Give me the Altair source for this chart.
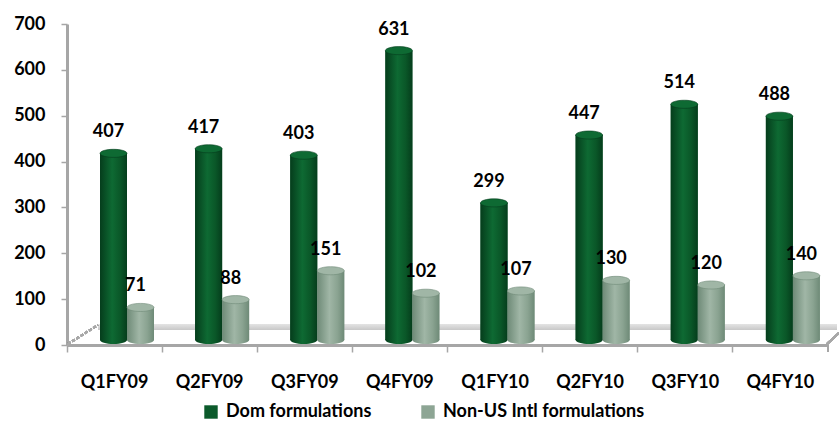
import altair as alt
import pandas as pd

# Quarterly formulations revenue
quarters = ["Q1FY09", "Q2FY09", "Q3FY09", "Q4FY09", "Q1FY10", "Q2FY10", "Q3FY10", "Q4FY10"]
dom_values = [407, 417, 403, 631, 299, 447, 514, 488]
intl_values = [71, 88, 151, 102, 107, 130, 120, 140]
series_names = ["Dom formulations", "Non-US Intl formulations"]
y_ticks = [0, 100, 200, 300, 400, 500, 600, 700]

rows = []
for q, d, n in zip(quarters, dom_values, intl_values):
    rows.append({"quarter": q, "series": series_names[0], "value": d})
    rows.append({"quarter": q, "series": series_names[1], "value": n})
df = pd.DataFrame(rows)

W, H = 761, 321
FONT = "Lato"
AXIS_GREY = "#A6A6A6"
DOM_COLOR = "#0B5A2B"
INTL_COLOR = "#8DA594"

x_enc = alt.X(
    "quarter:N",
    sort=quarters,
    scale=alt.Scale(paddingInner=0, paddingOuter=0),
    axis=alt.Axis(
        title=None, labelAngle=0, bandPosition=0,
        domainColor=AXIS_GREY, domainWidth=3,
        tickColor=AXIS_GREY, tickWidth=1.5, tickSize=7,
        labelPadding=21, labelFont=FONT, labelFontWeight="bold",
        labelFontSize=18, labelColor="black",
    ),
)
xoff_enc = alt.XOffset(
    "series:N",
    sort=series_names,
    scale=alt.Scale(range=[33, 87], paddingInner=0, paddingOuter=0),
)
y_enc = alt.Y(
    "value:Q",
    scale=alt.Scale(domain=[0, 700], nice=False),
    axis=alt.Axis(
        title=None, grid=False, values=y_ticks,
        domainColor=AXIS_GREY, domainWidth=3,
        tickColor=AXIS_GREY, tickWidth=1.5, tickSize=6,
        labelPadding=16, labelFont=FONT, labelFontWeight="bold",
        labelFontSize=18, labelColor="black",
    ),
)

base = alt.Chart(df)

# 3D floor: back edge and slanted side edges
floor_shade = alt.Gradient(
    gradient="linear", x1=0, x2=0, y1=0, y2=1,
    stops=[
        alt.GradientStop(offset=0, color="#E4E4E4"),
        alt.GradientStop(offset=1, color="#C8C8C8"),
    ],
)
floor_back = base.mark_rect(fill=floor_shade).encode(
    x=alt.value(31), x2=alt.value(770), y=alt.value(300), y2=alt.value(306)
)
floor_left = base.mark_rule(color="#A8A8A8", strokeWidth=2, strokeDash=[3, 2]).encode(
    x=alt.value(1), x2=alt.value(31), y=alt.value(320), y2=alt.value(301)
)
floor_right = base.mark_rule(color="#A8A8A8", strokeWidth=2).encode(
    x=alt.value(760), x2=alt.value(772), y=alt.value(320), y2=alt.value(309)
)
end_tick = base.mark_rule(color=AXIS_GREY, strokeWidth=1.5).encode(
    x=alt.value(W), y=alt.value(H), y2=alt.value(H + 7)
)

# solid bars carrying the legend
bars = base.mark_bar(yOffset=-5).encode(
    x=x_enc, xOffset=xoff_enc, y=y_enc,
    color=alt.Color(
        "series:N",
        sort=series_names,
        scale=alt.Scale(domain=series_names, range=[DOM_COLOR, INTL_COLOR]),
        legend=alt.Legend(
            title=None, orient="none", legendX=135, legendY=379,
            direction="horizontal", symbolType="square", symbolSize=180,
            symbolStrokeWidth=0, labelFont=FONT, labelFontWeight="bold",
            labelFontSize=18, labelColor="black", columnPadding=47,
            labelOffset=6, labelLimit=400,
        ),
    ),
)


def cylinder(series, edge, mid, light):
    shade = alt.Gradient(
        gradient="linear", x1=0, x2=1, y1=0, y2=0,
        stops=[
            alt.GradientStop(offset=0, color=edge),
            alt.GradientStop(offset=0.45, color=light),
            alt.GradientStop(offset=0.75, color=mid),
            alt.GradientStop(offset=1, color=edge),
        ],
    )
    sub = base.transform_filter(alt.datum.series == series)
    body = sub.mark_bar(yOffset=-5, fill=shade).encode(x=x_enc, xOffset=xoff_enc, y=y_enc)
    ellipse = "M-1,0A1,0.3,0,1,0,1,0A1,0.3,0,1,0,-1,0Z"
    bottom = sub.mark_point(
        shape=ellipse, size=729, filled=True, opacity=1, fill=shade, yOffset=-5
    ).encode(x=x_enc, xOffset=xoff_enc, y=alt.datum(0))
    top = sub.mark_point(
        shape=ellipse, size=729, filled=True, opacity=1, fill=light,
        stroke=edge, strokeWidth=0.6, yOffset=-5,
    ).encode(x=x_enc, xOffset=xoff_enc, y=y_enc)
    return bottom + body + top


dom_cyl = cylinder(series_names[0], "#053D1C", "#0A5728", "#0E6A33")
intl_cyl = cylinder(series_names[1], "#6E8A77", "#8AA391", "#A0B6A6")

labels = base.mark_text(
    baseline="alphabetic", dy=-21, dx=-5, font=FONT, fontWeight="bold",
    fontSize=18, color="black",
).encode(x=x_enc, xOffset=xoff_enc, y=y_enc, text="value:Q")

chart = (
    alt.layer(floor_back, floor_left, floor_right, bars, dom_cyl, intl_cyl, labels, end_tick)
    .properties(
        width=W, height=H,
        autosize=alt.AutoSizeParams(type="none"),
        padding={"left": 67, "top": 24, "right": 11, "bottom": 78},
        background="white",
    )
    .configure_view(stroke=None)
)

chart.save("out.html", embed_options={"renderer": "svg", "actions": False})
